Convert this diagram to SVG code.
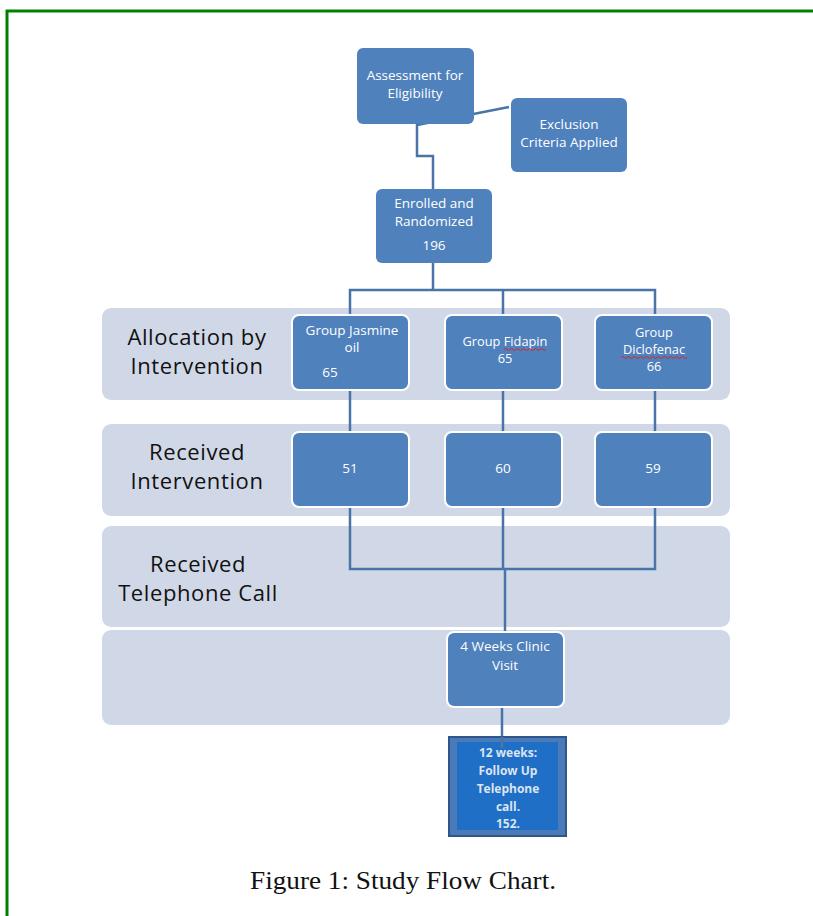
<svg xmlns="http://www.w3.org/2000/svg" width="813" height="916" viewBox="0 0 813 916">
<style>
.band{fill:#d0d8e8}
.box{fill:#4f81bd;stroke:#ffffff;stroke-width:2}
.box0{fill:#4f81bd}
.bt{font-family:"Open Sans","Liberation Sans",sans-serif;font-size:13.5px;fill:#ffffff;text-anchor:middle}
.bs{font-size:12.8px}
.lbl{font-family:"Open Sans","Liberation Sans",sans-serif;font-size:22px;letter-spacing:0.6px;fill:#111111;text-anchor:middle}
.conn{fill:none;stroke:#4a74a8;stroke-width:2.5}
.sq{fill:none;stroke:#e02020;stroke-width:1}
</style>
<rect width="813" height="916" fill="#ffffff"/>
<path d="M7,916 V11 H813" fill="none" stroke="#008000" stroke-width="3"/>

<g id="bands">
<rect class="band" x="102" y="308" width="628" height="92" rx="9"/>
<rect class="band" x="102" y="424" width="628" height="92" rx="9"/>
<rect class="band" x="102" y="526" width="628" height="101" rx="9"/>
<rect class="band" x="102" y="630" width="628" height="95" rx="9"/>
</g>

<g id="connectors">
<path class="conn" d="M509,107 L417,125 V156 H433 V190"/>
<path class="conn" d="M433,263 V290"/>
<path class="conn" d="M350,316 V290 H655 V316"/>
<path class="conn" d="M503,290 V316"/>
<path class="conn" d="M350,390 V432"/>
<path class="conn" d="M503,390 V432"/>
<path class="conn" d="M655,390 V432"/>
<path class="conn" d="M350,507 V569 H655 V507"/>
<path class="conn" d="M503,507 V569"/>
<path class="conn" d="M505,569 V632" stroke-width="3.5"/>
<path class="conn" d="M502,707 V746"/>
</g>

<g id="lbl-allocation">
<text class="lbl" x="197" y="345">Allocation by</text>
<text class="lbl" x="197" y="374">Intervention</text>
</g>
<g id="lbl-received-intervention">
<text class="lbl" x="197" y="460">Received</text>
<text class="lbl" x="197" y="489">Intervention</text>
</g>
<g id="lbl-received-call">
<text class="lbl" x="198" y="572">Received</text>
<text class="lbl" x="198" y="601">Telephone Call</text>
</g>

<g id="n-assessment">
<rect class="box0" x="357" y="48" width="117" height="76" rx="6"/>
<text class="bt" x="415" y="80">Assessment for</text>
<text class="bt" x="415" y="98">Eligibility</text>
</g>
<g id="n-exclusion">
<rect class="box0" x="511" y="98" width="116" height="74" rx="6"/>
<text class="bt" x="569" y="129">Exclusion</text>
<text class="bt" x="569" y="147">Criteria Applied</text>
</g>
<g id="n-enrolled">
<rect class="box0" x="376" y="189" width="116" height="74" rx="6"/>
<text class="bt" x="434" y="208">Enrolled and</text>
<text class="bt" x="434" y="226">Randomized</text>
<text class="bt" x="434" y="250">196</text>
</g>

<g id="n-jasmine">
<rect class="box" x="292" y="315" width="117" height="75" rx="7"/>
<text class="bt" x="352" y="335">Group Jasmine</text>
<text class="bt" x="352" y="352">oil</text>
<text class="bt" x="330" y="377">65</text>
</g>
<g id="n-fidapin">
<rect class="box" x="445" y="315" width="117" height="75" rx="7"/>
<text class="bt bs" x="505" y="346">Group Fidapin</text>
<text class="bt bs" x="505" y="363">65</text>
<path class="sq" d="M504,349.5 q1.5,-2 3,0 t3,0 t3,0 t3,0 t3,0 t3,0 t3,0 t3,0 t3,0 t3,0 t3,0 t3,0 t3,0 t3,0"/>
</g>
<g id="n-diclofenac">
<rect class="box" x="595" y="315" width="117" height="75" rx="7"/>
<text class="bt bs" x="654" y="337">Group</text>
<text class="bt bs" x="654" y="354">Diclofenac</text>
<text class="bt bs" x="654" y="371">66</text>
<path class="sq" d="M621,357.5 q1.5,-2 3,0 t3,0 t3,0 t3,0 t3,0 t3,0 t3,0 t3,0 t3,0 t3,0 t3,0 t3,0 t3,0 t3,0 t3,0 t3,0 t3,0 t3,0 t3,0 t3,0 t3,0 t3,0"/>
</g>

<g id="n-51">
<rect class="box" x="292" y="432" width="117" height="75" rx="7"/>
<text class="bt" x="350" y="473">51</text>
</g>
<g id="n-60">
<rect class="box" x="445" y="432" width="117" height="75" rx="7"/>
<text class="bt" x="503" y="473">60</text>
</g>
<g id="n-59">
<rect class="box" x="595" y="432" width="117" height="75" rx="7"/>
<text class="bt" x="653" y="473">59</text>
</g>

<g id="n-clinic">
<rect class="box" x="447" y="632" width="117" height="75" rx="7"/>
<text class="bt" x="505" y="651">4 Weeks Clinic</text>
<text class="bt" x="505" y="670">Visit</text>
</g>

<g id="n-followup">
<rect x="449" y="737" width="117" height="99" fill="#4a7ab8" stroke="#2f558a" stroke-width="2"/>
<rect x="457" y="742" width="101" height="88" fill="#1f6fc6"/>
<path class="conn" d="M502,737 V748"/>
<g font-family="'Open Sans','Liberation Sans',sans-serif" font-size="12" font-weight="bold" fill="#dce4f0" text-anchor="middle">
<text x="508" y="757">12 weeks:</text>
<text x="508" y="775">Follow Up</text>
<text x="508" y="793">Telephone</text>
<text x="508" y="811">call.</text>
<text x="508" y="828">152.</text>
</g>
</g>

<text x="403" y="889" font-family="'Liberation Serif',serif" font-size="25" fill="#111111" text-anchor="middle" textLength="306" lengthAdjust="spacingAndGlyphs">Figure 1: Study Flow Chart.</text>
</svg>
